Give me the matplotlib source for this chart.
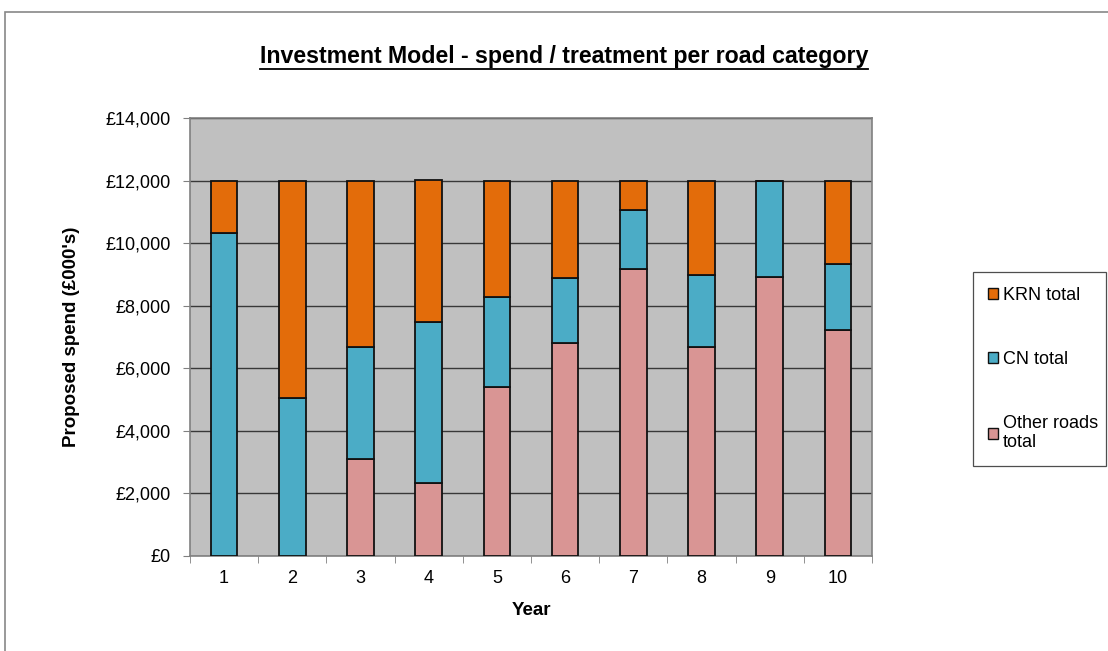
import matplotlib
matplotlib.use("Agg")
import matplotlib.pyplot as plt
import numpy as np
from matplotlib.patches import Patch, Rectangle
from matplotlib.lines import Line2D
from matplotlib.ticker import FuncFormatter, MultipleLocator

years = ["1", "2", "3", "4", "5", "6", "7", "8", "9", "10"]
other_roads = [0, 0, 3090, 2320, 5390, 6800, 9170, 6670, 8910, 7220]
cn_total = [10330, 5060, 3580, 5160, 2880, 2100, 1890, 2320, 3090, 2120]
krn_total = [1670, 6940, 5330, 4550, 3730, 3100, 940, 3010, 0, 2660]

colors = {
    "krn": "#E36C0A",
    "cn": "#4BACC6",
    "other": "#D99594",
}

plt.rcParams["font.family"] = ["Liberation Sans", "DejaVu Sans"]

fig = plt.figure(figsize=(11.08, 6.51), dpi=100)
ax = fig.add_axes([190 / 1108, 1 - 556 / 651, 682 / 1108, 438 / 651])
ax.set_facecolor("#C0C0C0")

x = np.arange(1, len(years) + 1)
width = 0.39
other = np.array(other_roads)
cn = np.array(cn_total)
krn = np.array(krn_total)

ax.bar(x, other, width, color=colors["other"], edgecolor="#111111", linewidth=1.3, zorder=3)
ax.bar(x, cn, width, bottom=other, color=colors["cn"], edgecolor="#111111", linewidth=1.3, zorder=3)
ax.bar(x, krn, width, bottom=other + cn, color=colors["krn"], edgecolor="#111111", linewidth=1.3, zorder=3)

ax.set_xlim(0.5, len(years) + 0.5)
ax.set_ylim(0, 14000)
ax.yaxis.set_major_locator(MultipleLocator(2000))
ax.yaxis.set_major_formatter(FuncFormatter(lambda v, p: "£{:,.0f}".format(v)))
ax.grid(axis="y", color="#383838", linewidth=1.0, zorder=1)
ax.set_axisbelow(True)

# category labels centred, tick marks on the boundaries
ax.set_xticks(x)
ax.set_xticklabels(years)
ax.tick_params(axis="x", which="major", length=0, labelsize=13, pad=10)
ax.set_xticks(np.arange(0.5, len(years) + 1), minor=True)
ax.tick_params(axis="x", which="minor", length=5, color="#808080", direction="out")
ax.tick_params(axis="y", length=5, color="#808080", labelsize=13, direction="out", pad=9)

for side in ["left", "bottom", "right", "top"]:
    ax.spines[side].set_color("#808080")
    ax.spines[side].set_linewidth(1.2)

ax.set_xlabel("Year", fontsize=13.5, fontweight="bold", labelpad=11)
ax.set_ylabel("Proposed spend (£000's)", fontsize=13.5, fontweight="bold", labelpad=18)

title = fig.text(564 / 1108, 1 - 56 / 651, "Investment Model - spend / treatment per road category",
                 ha="center", va="center", fontsize=16.7, fontweight="bold",
                 family=["Liberation Sans Narrow", "Liberation Sans", "DejaVu Sans"])

handles = [
    Patch(facecolor=colors["krn"], edgecolor="#111111", linewidth=1.0),
    Patch(facecolor=colors["cn"], edgecolor="#111111", linewidth=1.0),
    Patch(facecolor=colors["other"], edgecolor="#111111", linewidth=1.0),
]
leg = fig.legend(handles, ["KRN total", "CN total", "Other roads\ntotal"],
                 loc="upper left",
                 bbox_to_anchor=(973 / 1108, 1 - 463 / 651, 133 / 1108, 191 / 651),
                 mode="expand",
                 fontsize=13, frameon=True, fancybox=False, edgecolor="#222222",
                 handlelength=0.55, handleheight=0.55, handletextpad=0.3,
                 labelspacing=2.6, borderpad=0.82, borderaxespad=0)
leg.get_frame().set_linewidth(0.9)

# outer chart border
fig.patches.append(Rectangle((5 / 1108, -0.1), 1.2, 1 - 12 / 651 + 0.1,
                             transform=fig.transFigure, fill=False,
                             edgecolor="#888888", linewidth=1.2))

# underline the title
fig.canvas.draw()
bb = title.get_window_extent().transformed(fig.transFigure.inverted())
fig.lines.append(Line2D([bb.x0, bb.x1], [bb.y0 - 0.002, bb.y0 - 0.002],
                        transform=fig.transFigure, color="black", linewidth=1.3))

fig.savefig("out.png", dpi=100)
